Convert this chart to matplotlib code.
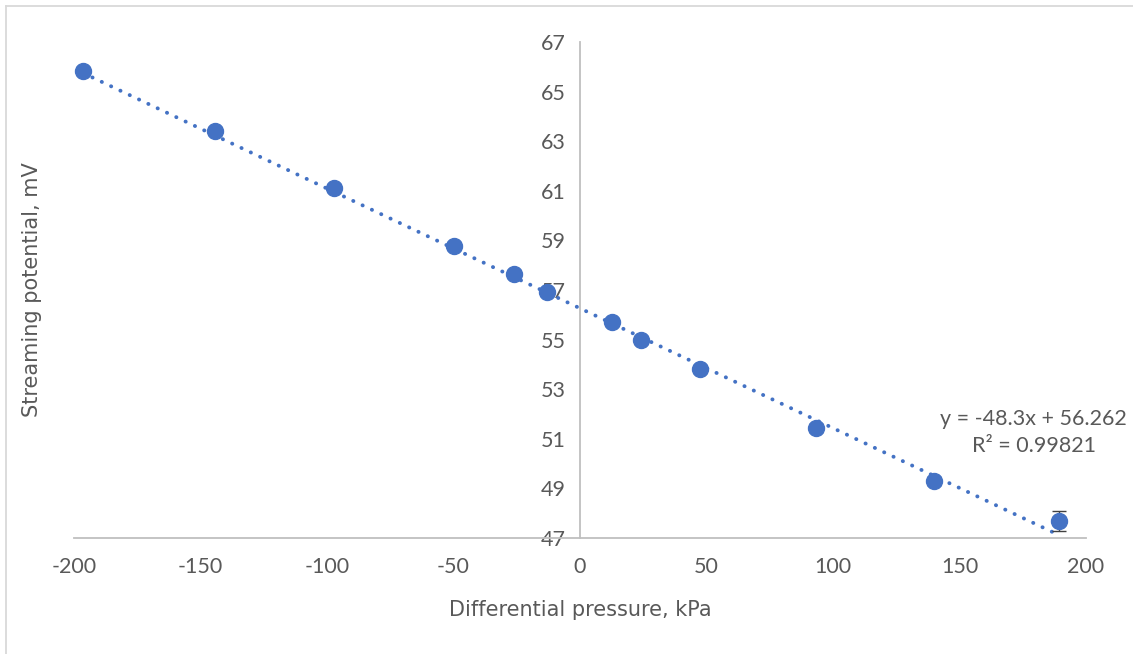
import numpy as np
import matplotlib.pyplot as plt
from matplotlib.lines import Line2D

plt.rcParams['axes.unicode_minus'] = False

# data
pressure_kpa = [-196.4, -144.3, -97.2, -49.8, -26.1, -13.2, 12.5, 24.3, 47.6, 93.3, 140.0, 189.3]
potential_mv = [65.85, 63.40, 61.10, 58.78, 57.63, 56.92, 55.69, 54.98, 53.82, 51.44, 49.30, 47.70]
potential_err = [0.12, 0.12, 0.12, 0.12, 0.12, 0.12, 0.12, 0.12, 0.12, 0.15, 0.15, 0.40]
slope = -48.3      # per MPa
intercept = 56.262
r2 = 0.99821

x_ticks = [-200, -150, -100, -50, 0, 50, 100, 150, 200]
y_ticks = [47, 49, 51, 53, 55, 57, 59, 61, 63, 65, 67]

txt = '#595959'
blue = '#4472C4'
axis_col = '#BFBFBF'

fig = plt.figure(figsize=(11.33, 6.54), dpi=100)
ax = fig.add_axes([0.0653, 0.1774, 0.8932, 0.7584])

# trendline (x in kPa -> MPa)
xl = np.array([min(pressure_kpa), max(pressure_kpa)])
ax.plot(xl, slope * xl / 1000 + intercept, linestyle=(0, (0.05, 2.6)), color=blue,
        linewidth=2.8, dash_capstyle='round', zorder=2)

ax.errorbar(pressure_kpa, potential_mv, yerr=potential_err, fmt='o', color=blue,
            markersize=11.5, ecolor='#404040', elinewidth=1, capsize=5, capthick=1, zorder=3)

ax.set_xlim(-200, 200)
ax.set_ylim(47, 67)
ax.set_xticks(x_ticks)
ax.set_yticks(y_ticks)

for s in ['top', 'right']:
    ax.spines[s].set_visible(False)
ax.spines['left'].set_position(('data', 0))
ax.spines['left'].set_color(axis_col)
ax.spines['bottom'].set_color(axis_col)
ax.spines['left'].set_linewidth(1.3)
ax.spines['bottom'].set_linewidth(1.3)
ax.tick_params(axis='both', length=0, labelsize=15.5, labelcolor=txt)
ax.tick_params(axis='x', pad=14)
ax.tick_params(axis='y', pad=10)
for lab in ax.get_xticklabels() + ax.get_yticklabels():
    lab.set_family('Lato')

ax.set_xlabel('Differential pressure, kPa', fontsize=15, color=txt, labelpad=16)
ax.set_ylabel('Streaming potential, mV', fontsize=15, color=txt)
ax.yaxis.set_label_coords(-0.032, 0.5)

ax.text(1.0405, 0.165, 'y = -48.3x + 56.262\nR² = {:.5f}'.format(r2), transform=ax.transAxes,
        ha='right', va='bottom', fontsize=15.5, color=txt, family='Lato',
        multialignment='center', linespacing=1.45)

# chart area border
fig.add_artist(Line2D([0.0053, 0.0053], [0, 0.9908], transform=fig.transFigure, color='#D9D9D9', lw=1.3))
fig.add_artist(Line2D([0.0053, 1], [0.9908, 0.9908], transform=fig.transFigure, color='#D9D9D9', lw=1.3))

fig.savefig('out.png', dpi=100)
